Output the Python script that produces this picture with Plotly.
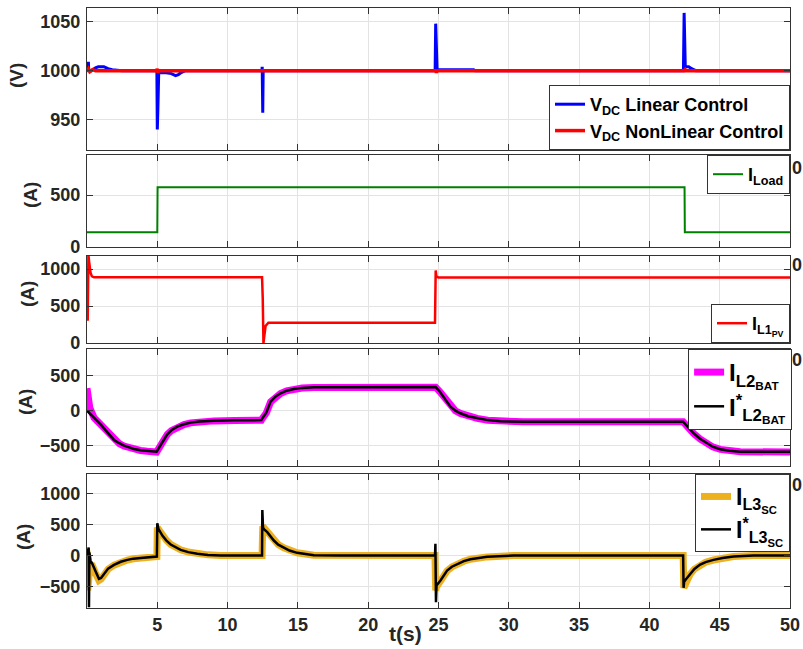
import plotly.graph_objects as go

# ---------------- data ----------------
t_vlin = [0, 0.1, 0.12, 0.3, 0.6, 0.8, 1.2, 1.5, 1.8, 2.5, 4.97, 5.0, 5.04, 5.1, 5.3, 5.5, 6.0, 6.3, 6.5, 6.7, 7.0,
          12.44, 12.46, 12.5, 12.53, 12.6, 24.76, 24.8, 24.85, 24.9, 27.5, 27.6,
          42.42, 42.47, 42.55, 42.6, 42.8, 43.0, 43.3, 50]
v_vlin = [1000, 1009, 1000, 1000, 1003, 1004, 1004, 1002, 1001, 1000, 1000, 940, 960, 998, 998, 998, 997, 995, 996, 998, 1000,
          1000, 1004, 957, 1000, 1000, 1000, 1048, 1001, 1001, 1001, 1000,
          1000, 1059, 1005, 1004, 1004, 1002, 1000, 1000]

t_vnl = [0, 0.1, 0.2, 0.4, 0.6, 1.0, 4.95, 5.0, 5.05, 5.1, 24.8, 24.85, 24.9, 42.5, 42.55, 42.6, 50]
v_vnl = [1000, 1002, 999, 1001, 1000, 1000, 1000, 1002, 998, 1000, 1000, 998, 1000, 1000, 1001, 1000, 1000]

t_load = [0, 5.0, 5.02, 42.5, 42.52, 50]
v_load = [141, 141, 574, 574, 141, 141]

t_pv = [0.05, 0.1, 0.15, 0.25, 0.35, 0.5, 12.45, 12.5, 12.55, 12.7, 12.9, 24.75, 24.8, 24.85, 25.0, 50]
v_pv = [300, 1190, 1100, 950, 900, 888, 888, 600, 0, 230, 275, 275, 980, 900, 885, 885]

t_bat = [0, 0.1, 0.2, 0.5, 1.0, 1.5, 1.92, 2.3, 2.63, 3.0, 3.34, 3.8, 4.29, 4.95, 5.24, 5.5, 5.71, 6.0, 6.42, 6.9,
         7.37, 8.0, 9.03, 10.5, 12.4, 12.5, 12.75, 13.06, 13.4, 13.77, 14.2, 14.71, 15.3, 16.13, 18, 24.8, 25.1,
         25.5, 25.85, 26.2, 26.56, 27.1, 27.75, 28.5, 29.4, 31, 42.4, 42.7, 43.14, 43.6, 44.09, 44.5, 45.04, 45.7,
         46.46, 50]
v_bat = [320, 200, 40, -100, -210, -325, -420, -470, -505, -530, -550, -568, -580, -590, -495, -405, -340, -285,
         -232, -198, -174, -158, -146, -140, -138, -103, -35, 125, 197, 245, 283, 308, 323, 332, 334, 334, 268,
         158, 55, -2, -40, -82, -111, -137, -154, -160, -160, -232, -325, -403, -468, -517, -553, -574, -587, -590]

t_batref = [0, 0.5, 1.0, 1.5, 1.92, 2.3, 2.63, 3.0, 3.34, 3.8, 4.29, 4.95, 5.24, 5.5, 5.71, 6.0, 6.42, 6.9, 7.37,
            8.0, 9.03, 10.5, 12.4, 12.5, 12.75, 13.06, 13.4, 13.77, 14.2, 14.71, 15.3, 16.13, 18, 24.8, 25.1, 25.5,
            25.85, 26.2, 26.56, 27.1, 27.75, 28.5, 29.4, 31, 42.4, 42.7, 43.14, 43.6, 44.09, 44.5, 45.04, 45.7,
            46.46, 50]
v_batref = [0, -100, -204, -320, -418, -465, -500, -525, -547, -565, -576, -585, -490, -400, -337, -280, -228,
            -195, -171, -155, -143, -137, -135, -100, -30, 129, 200, 248, 285, 310, 325, 334, 336, 336, 270, 160,
            57, 0, -37, -80, -109, -135, -152, -158, -158, -230, -323, -400, -466, -515, -551, -572, -585, -588]

t_sc = [0, 0.05, 0.12, 0.2, 0.38, 0.6, 0.85, 1.0, 1.21, 1.5, 1.92, 2.4, 2.87, 3.3, 3.82, 4.4, 4.97, 5.0, 5.08,
        5.36, 5.65, 5.95, 6.3, 6.66, 7.2, 7.85, 8.6, 9.5, 12.45, 12.5, 12.6, 12.82, 13.05, 13.29, 13.6, 14.0, 14.4,
        14.95, 16.13, 18, 24.75, 24.8, 24.86, 25.14, 25.35, 25.61, 25.95, 26.33, 26.8, 27.27, 27.8, 28.46, 30.35,
        42.4, 42.45, 42.6, 42.9, 43.2, 43.61, 44.0, 44.56, 45.2, 45.98, 47.4, 50]
v_sc = [80, -560, -400, -150, -160, -280, -400, -380, -310, -220, -155, -105, -72, -52, -40, -27, -18, 450, 420,
        330, 245, 180, 132, 93, 57, 28, 11, 0, 0, 470, 440, 380, 305, 245, 178, 125, 82, 45, 6, 0, 0, -560, -500,
        -410, -325, -245, -183, -137, -92, -60, -39, -22, 0, 0, -520, -440, -300, -218, -148, -107, -72, -42, -17,
        0, 0]

t_scref = [0, 0.12, 0.14, 0.17, 0.25, 0.38, 0.6, 0.85, 1.0, 1.21, 1.5, 1.92, 2.4, 2.87, 3.3, 3.82, 4.4, 4.97, 5.0,
           5.08, 5.36, 5.65, 5.95, 6.3, 6.66, 7.2, 7.85, 8.6, 9.5, 12.45, 12.47, 12.52, 12.6, 12.82, 13.05, 13.29,
           13.6, 14.0, 14.4, 14.95, 16.13, 18, 24.75, 24.78, 24.82, 24.86, 25.14, 25.35, 25.61, 25.95, 26.33, 26.8,
           27.27, 27.8, 28.46, 30.35, 42.4, 42.43, 42.47, 42.6, 42.9, 43.2, 43.61, 44.0, 44.56, 45.2, 45.98, 47.4, 50]
v_scref = [0, 130, -830, 50, -80, -133, -250, -375, -360, -295, -210, -150, -100, -70, -50, -38, -25, -16, 520,
           430, 321, 240, 177, 130, 91, 55, 27, 10, 0, 0, 730, 450, 420, 375, 300, 241, 175, 123, 80, 43, 5, 0, 0,
           190, -750, -480, -402, -320, -241, -180, -134, -90, -59, -38, -21, 0, 0, -519, -420, -380, -294, -215,
           -145, -105, -70, -40, -16, 0, 0]

x_ticks = [5, 10, 15, 20, 25, 30, 35, 40, 45, 50]
y_ticks = [[950, 1000, 1050], [0, 500], [0, 500, 1000], [-500, 0, 500], [-500, 0, 500, 1000]]
y_ranges = [[919, 1064], [0, 885], [0, 1176], [-790, 880], [-843, 1310]]
y_titles = ["(V)", "(A)", "(A)", "(A)", "(A)"]

# ---------------- figure ----------------
FONT = "Liberation Sans"
AXC = "#333333"
W, H = 803, 649
L, R, T, B = 87, 13, 8, 41
PH = H - T - B


def py2paper(py):
    return (H - B - py) / PH


panel_px = [(8, 150), (155, 247), (256, 343), (349, 466), (474, 608)]
domains = [[py2paper(b), py2paper(t)] for (t, b) in panel_px]

fig = go.Figure()

traces = [
    (1, t_vlin, v_vlin, "#0000FF", 3, "V<sub>DC</sub> Linear Control", "legend", "a"),
    (1, t_vnl, v_vnl, "#FF0000", 3.5, "V<sub>DC</sub> NonLinear Control", "legend", "b"),
    (2, t_load, v_load, "#008000", 2, "I<sub>Load</sub>", "legend2", "c"),
    (3, t_pv, v_pv, "#FF0000", 2.5, "I<sub>L1<sub>PV</sub></sub>", "legend3", "d"),
    (4, t_bat, v_bat, "#FF00FF", 7, "I<sub>L2<sub>BAT</sub></sub>", "legend4", "e"),
    (4, t_batref, v_batref, "#000000", 2.5, "I<sup>*</sup><sub>L2<sub>BAT</sub></sub>", "legend4", "f"),
    (5, t_sc, v_sc, "#EDB120", 7, "I<sub>L3<sub>SC</sub></sub>", "legend5", "g"),
    (5, t_scref, v_scref, "#000000", 2.5, "I<sup>*</sup><sub>L3<sub>SC</sub></sub>", "legend5", "h"),
]
for (p, tx, vy, col, w, name, leg, grp) in traces:
    sfx = "" if p == 1 else str(p)
    fig.add_trace(go.Scatter(x=tx, y=vy, mode="lines", name=name,
                             line=dict(color=col, width=w), legendgroup=grp,
                             xaxis="x" + sfx, yaxis="y" + sfx, legend=leg))

tickfont = dict(family=FONT, size=18, color="#262626", weight="bold")
layout = dict(width=W, height=H, margin=dict(l=L, r=R, t=T, b=B, autoexpand=False),
              paper_bgcolor="white", plot_bgcolor="white", showlegend=True)
for i in range(5):
    sfx = "" if i == 0 else str(i + 1)
    layout["xaxis" + sfx] = dict(
        domain=[0, 1], range=[0, 50], anchor="y" + sfx, tickvals=x_ticks,
        showticklabels=(i == 4), ticks="inside", ticklen=6, tickwidth=1.2, tickcolor=AXC,
        showline=True, linecolor=AXC, linewidth=1.3, mirror="ticks",
        showgrid=True, gridcolor="#e3e3e3", gridwidth=1, zeroline=False,
        tickfont=tickfont, **({} if i == 0 else {"matches": "x"}))
    layout["yaxis" + sfx] = dict(
        domain=domains[i], range=y_ranges[i], anchor="x" + sfx, tickvals=y_ticks[i],
        ticks="inside", ticklen=6, tickwidth=1.2, tickcolor=AXC,
        showline=True, linecolor=AXC, linewidth=1.3, mirror="ticks",
        showgrid=True, gridcolor="#e3e3e3", gridwidth=1, zeroline=False,
        tickfont=tickfont, ticklabelstandoff=2)


def legfont(s):
    return dict(family=FONT, size=s, color="#000000", weight="bold")


legbase = dict(bgcolor="white", bordercolor="#333333", borderwidth=1,
               xref="paper", yref="paper", xanchor="right", x=1.0, tracegroupgap=0)
layout["legend"] = dict(legbase, font=legfont(18), y=domains[0][0], yanchor="bottom")
layout["legend2"] = dict(legbase, font=legfont(18), y=domains[1][1], yanchor="top")
layout["legend3"] = dict(legbase, font=legfont(18), y=domains[2][0], yanchor="bottom")
layout["legend4"] = dict(legbase, font=legfont(24), y=domains[3][1], yanchor="top", x=1.003)
layout["legend5"] = dict(legbase, font=legfont(23), y=domains[4][1], yanchor="top")

ann = []
ytitle_pos = [(17, 76), (30, 195), (27, 294), (25, 402), (23, 537)]
for (px, pyy), txt in zip(ytitle_pos, y_titles):
    ann.append(dict(text=txt, x=(px - L) / (W - L - R), y=py2paper(pyy), xref="paper", yref="paper",
                    showarrow=False, textangle=-90, xanchor="center", yanchor="middle",
                    font=dict(family=FONT, size=19, color="#262626", weight="bold")))
ann.append(dict(text="t(s)", x=(405 - L) / (W - L - R), y=py2paper(633), xref="paper", yref="paper",
                showarrow=False, xanchor="center", yanchor="middle",
                font=dict(family=FONT, size=21, color="#262626", weight="bold")))
for pyy in [168, 265, 360, 485]:
    ann.append(dict(text="0", x=(797 - L) / (W - L - R), y=py2paper(pyy), xref="paper", yref="paper",
                    showarrow=False, xanchor="center", yanchor="middle",
                    font=dict(family=FONT, size=18, color="#262626", weight="bold")))
layout["annotations"] = ann

fig.update_layout(**layout)
fig.write_html("out.html", config={"displayModeBar": False},
               post_script="document.body.style.margin='0';document.body.style.padding='0';")
